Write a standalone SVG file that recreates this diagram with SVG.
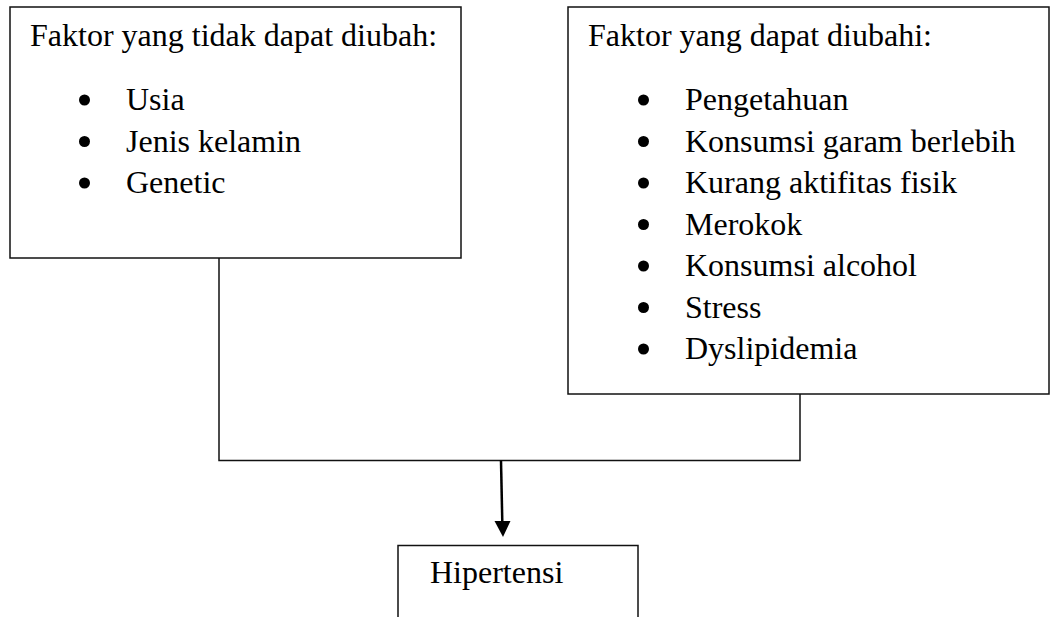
<svg xmlns="http://www.w3.org/2000/svg" width="1051" height="617" viewBox="0 0 1051 617">
<defs>
<style>
.box{fill:#fff;stroke:#111;stroke-width:1.5}
.t{font-family:"Liberation Serif","Times New Roman",serif;font-size:32px;fill:#000}
.ln{fill:none;stroke:#111;stroke-width:1.5}
.b{fill:#000}
</style>
</defs>
<rect width="1051" height="617" fill="#fff"/>
<g id="connectors">
<polyline class="ln" points="219,258 219,460.5 800,460.5 800,394"/>
<line x1="501" y1="460.5" x2="502.3" y2="522" stroke="#000" stroke-width="2.5"/>
<path d="M494.5,521 L510.5,521 L503,537 Z" fill="#000"/>
</g>
<g id="node-tidak">
<rect class="box" x="10" y="7" width="451" height="251"/>
<text class="t" x="30" y="46">Faktor yang tidak dapat diubah:</text>
<circle class="b" cx="84.5" cy="100" r="5.5"/>
<text class="t" x="126" y="110">Usia</text>
<circle class="b" cx="84.5" cy="141.5" r="5.5"/>
<text class="t" x="126" y="151.5">Jenis kelamin</text>
<circle class="b" cx="84.5" cy="183" r="5.5"/>
<text class="t" x="126" y="193">Genetic</text>
</g>
<g id="node-dapat">
<rect class="box" x="568" y="7" width="481" height="387"/>
<text class="t" x="588" y="46">Faktor yang dapat diubahi:</text>
<circle class="b" cx="643.5" cy="100" r="5.5"/>
<text class="t" x="685" y="110">Pengetahuan</text>
<circle class="b" cx="643.5" cy="141.5" r="5.5"/>
<text class="t" x="685" y="151.5">Konsumsi garam berlebih</text>
<circle class="b" cx="643.5" cy="183" r="5.5"/>
<text class="t" x="685" y="193">Kurang aktifitas fisik</text>
<circle class="b" cx="643.5" cy="224.5" r="5.5"/>
<text class="t" x="685" y="234.5">Merokok</text>
<circle class="b" cx="643.5" cy="266" r="5.5"/>
<text class="t" x="685" y="276">Konsumsi alcohol</text>
<circle class="b" cx="643.5" cy="307.5" r="5.5"/>
<text class="t" x="685" y="317.5">Stress</text>
<circle class="b" cx="643.5" cy="349" r="5.5"/>
<text class="t" x="685" y="359">Dyslipidemia</text>
</g>
<g id="node-hipertensi">
<rect class="box" x="398" y="545.5" width="240" height="90"/>
<text class="t" x="430" y="583">Hipertensi</text>
</g>
</svg>
